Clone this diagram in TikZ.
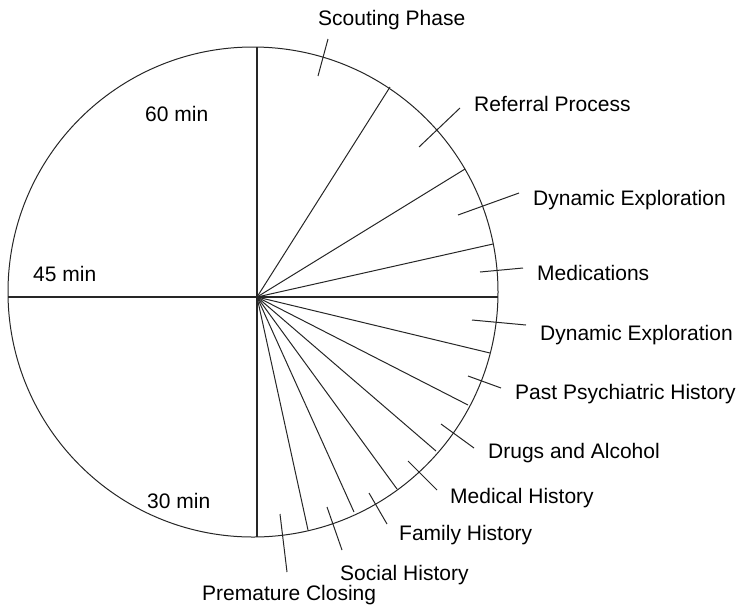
\documentclass[tikz,border=0pt]{standalone}
\usepackage{fontspec}
\setmainfont{Liberation Sans}
\begin{document}
\begin{tikzpicture}[x=1pt,y=-1pt,
  thinline/.style={line width=1pt,black!85},
  axisline/.style={line width=2.4pt,black!85},
  lbl/.style={anchor=base west,inner sep=0pt,font=\fontsize{21}{25}\selectfont,text=black}]
\useasboundingbox (0,0) rectangle (741,606);
% outer circle
\draw[thinline] (253,292) circle[radius=245];
\coordinate (hub) at (257,297);
% radial lines
\foreach \p in {(390,87),(465,169),(493,244),(490,353),(468,405),(436,451),(397,489),(354,512),(308,530)}
  \draw[thinline] (hub) -- \p;
\draw[axisline] (257,47) -- (257,537);
\draw[axisline] (8,297) -- (498,297);
% label ticks
\draw[thinline] (318,76) -- (328,39);
\draw[thinline] (419,147) -- (460,108);
\draw[thinline] (458,215) -- (519,193);
\draw[thinline] (480,272) -- (523,268);
\draw[thinline] (472,320) -- (526,325);
\draw[thinline] (468,376) -- (501,388);
\draw[thinline] (441,424) -- (474,448);
\draw[thinline] (408,461) -- (437,490);
\draw[thinline] (369,493) -- (387,524);
\draw[thinline] (327,507) -- (342,550);
\draw[thinline] (280,514) -- (287,572);
% labels
\node[lbl] (l1) at (318,25) {Scouting Phase};
\node[lbl] (l2) at (474,111) {Referral Process};
\node[lbl] (l3) at (533,205) {Dynamic Exploration};
\node[lbl] (l4) at (537,280) {Medications};
\node[lbl] (l5) at (540,340) {Dynamic Exploration};
\node[lbl] (l6) at (515,399) {Past Psychiatric History};
\node[lbl] (l7) at (488,458) {Drugs and Alcohol};
\node[lbl] (l8) at (450,503) {Medical History};
\node[lbl] (l9) at (399,540) {Family History};
\node[lbl] (l10) at (340,580) {Social History};
\node[lbl] (l11) at (202,600) {Premature Closing};
\node[lbl] (m60) at (145,121) {60 min};
\node[lbl] (m45) at (33,281) {45 min};
\node[lbl] (m30) at (147,508) {30 min};
\end{tikzpicture}
\end{document}
